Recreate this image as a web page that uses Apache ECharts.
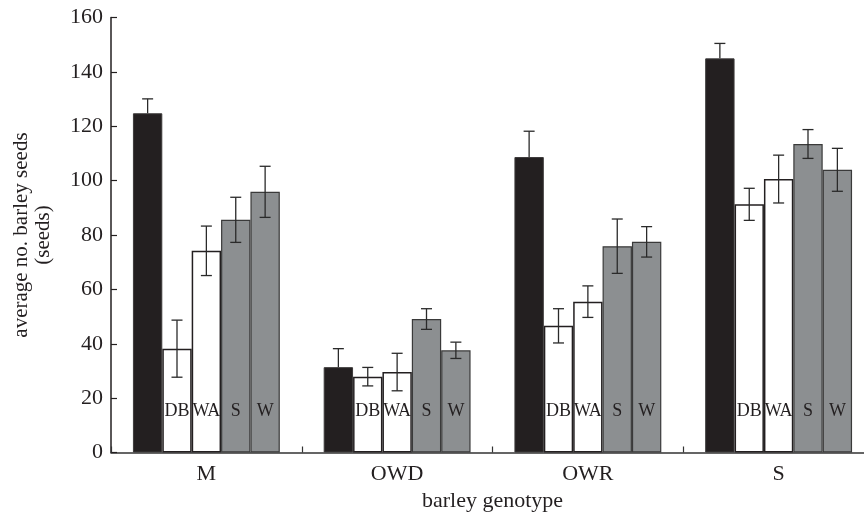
<!DOCTYPE html>
<html>
<head>
<meta charset="utf-8">
<script src="https://cdn.jsdelivr.net/npm/echarts@6/dist/echarts.min.js"></script>
<style>html,body{margin:0;padding:0;background:#fff}#c{width:864px;height:518px}</style>
</head>
<body>
<div id="c"></div>
<script>
const categories = ['M', 'OWD', 'OWR', 'S'];
const seriesNames = ['control', 'DB', 'WA', 'S', 'W'];
const controlValues = [124.8, 31.4, 108.7, 145.0];
const dbValues = [38.2, 27.9, 46.6, 91.3];
const waValues = [74.2, 29.6, 55.5, 100.6];
const sValues = [85.6, 49.1, 75.9, 113.5];
const wValues = [95.9, 37.6, 77.5, 104.0];
const controlErr = [5.3, 6.8, 9.5, 5.5];
const dbErr = [10.5, 3.4, 6.3, 5.9];
const waErr = [9.1, 6.9, 5.8, 8.8];
const sErr = [8.3, 3.8, 10.0, 5.3];
const wErr = [9.4, 3.0, 5.6, 7.9];
const yTicks = [0, 20, 40, 60, 80, 100, 120, 140, 160];

const allValues = [controlValues, dbValues, waValues, sValues, wValues];
const allErr = [controlErr, dbErr, waErr, sErr, wErr];

const FONT = 'Liberation Serif';
const INK = '#231f20';
const CAT_GAP = 0.23;
const styles = [
  {color: INK, borderColor: '#3c3a3a', borderWidth: 1},
  {color: '#ffffff', borderColor: INK, borderWidth: 1.5},
  {color: '#ffffff', borderColor: INK, borderWidth: 1.5},
  {color: '#8c8f91', borderColor: '#3a3a3a', borderWidth: 1.2},
  {color: '#8c8f91', borderColor: '#3a3a3a', borderWidth: 1.2}
];

const series = [];
allValues.forEach((vals, k) => {
  series.push({
    name: seriesNames[k],
    type: 'bar',
    data: vals,
    barGap: '0%',
    barCategoryGap: (CAT_GAP * 100) + '%',
    itemStyle: styles[k],
    z: 2,
    label: {
      show: k > 0,
      position: 'insideBottom',
      distance: 32,
      formatter: () => seriesNames[k],
      fontFamily: FONT,
      fontSize: 18,
      color: INK
    }
  });
});
allValues.forEach((vals, k) => {
  series.push({
    type: 'custom',
    z: 5,
    silent: true,
    data: vals.map((v, i) => [i, v, allErr[k][i]]),
    renderItem: function (params, api) {
      const idx = api.value(0), v = api.value(1), e = api.value(2);
      const c = api.coord([idx, v]);
      const bandW = api.size([1, 0])[0];
      const bw = bandW * (1 - CAT_GAP) / 5;
      const x = c[0] + (k - 2) * bw;
      const top = api.coord([idx, v + e])[1];
      const bot = api.coord([idx, v - e])[1];
      const cap = 5.5;
      const st = {stroke: '#2a2a2a', lineWidth: 1.3};
      const children = [
        {type: 'line', shape: {x1: x - cap, y1: top, x2: x + cap, y2: top}, style: st}
      ];
      if (k === 0) {
        // lower whisker is hidden inside the dark bar
        children.push({type: 'line', shape: {x1: x, y1: top, x2: x, y2: c[1]}, style: st});
      } else {
        children.push({type: 'line', shape: {x1: x, y1: top, x2: x, y2: bot}, style: st});
        children.push({type: 'line', shape: {x1: x - cap, y1: bot, x2: x + cap, y2: bot}, style: st});
      }
      return {type: 'group', children: children};
    }
  });
});

const chart = echarts.init(document.getElementById('c'), null, {renderer: 'canvas'});
chart.setOption({
  animation: false,
  backgroundColor: '#ffffff',
  grid: {left: 111, right: -10, top: 17.6, bottom: 65.5, containLabel: false, outerBoundsMode: 'none'},
  xAxis: {
    type: 'category',
    data: categories,
    name: 'barley genotype',
    nameLocation: 'middle',
    nameGap: 37,
    nameTextStyle: {fontFamily: FONT, fontSize: 22, color: INK},
    axisLine: {lineStyle: {color: '#333', width: 1.5}},
    axisTick: {show: true, inside: true, length: 6, lineStyle: {color: '#333', width: 1.2}},
    axisLabel: {fontFamily: FONT, fontSize: 22, color: INK, margin: 11},
    splitLine: {show: false}
  },
  yAxis: {
    type: 'value',
    min: yTicks[0],
    max: yTicks[yTicks.length - 1],
    interval: yTicks[1] - yTicks[0],
    name: 'average no. barley seeds\n(seeds)',
    nameLocation: 'middle',
    nameGap: 57,
    nameTextStyle: {fontFamily: FONT, fontSize: 21, lineHeight: 22, color: INK},
    axisLine: {show: true, lineStyle: {color: INK, width: 1.5}},
    axisTick: {show: true, inside: true, length: 6, lineStyle: {color: INK, width: 1.2}},
    axisLabel: {fontFamily: FONT, fontSize: 22, color: INK, margin: 8},
    splitLine: {show: false}
  },
  series: series
});
</script>
</body>
</html>
